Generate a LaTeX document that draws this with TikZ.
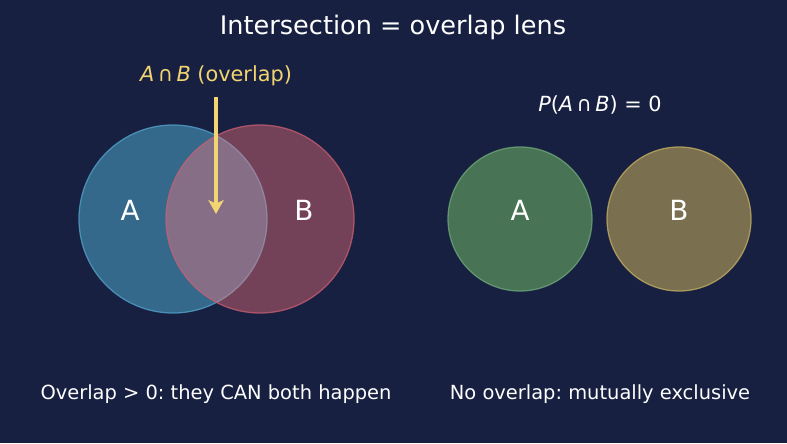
\documentclass[tikz,border=0pt]{standalone}
\usepackage{fontspec}
\setmainfont{DejaVu Sans}
\usepackage{tikz}
\usetikzlibrary{positioning, arrows.meta}
\frenchspacing

\definecolor{bgnavy}{RGB}{23,32,64}
\definecolor{setA}{RGB}{100,215,255}
\definecolor{setAedge}{RGB}{85,165,205}
\definecolor{setB}{RGB}{255,118,125}
\definecolor{setBedge}{RGB}{205,95,115}
\definecolor{exA}{RGB}{72,115,85}
\definecolor{exAedge}{RGB}{112,172,122}
\definecolor{exB}{RGB}{122,112,80}
\definecolor{exBedge}{RGB}{200,178,100}
\definecolor{hilite}{RGB}{242,212,115}

\begin{document}
\begin{tikzpicture}[x=0.72pt, y=-0.72pt]

\tikzstyle{set} = [draw, circle, inner sep=0pt, line width=0.9pt, draw opacity=0.75];
\tikzstyle{big} = [minimum size=135.4pt];
\tikzstyle{small} = [minimum size=103.7pt];
\tikzstyle{letter} = [text=white, font=\fontsize{20}{24}\selectfont];
\tikzstyle{caption} = [text=white, font=\fontsize{14}{17}\selectfont];
\tikzstyle{arrow} = [-{Stealth[length=10pt, width=11pt, inset=2.5pt]}, line width=2.2pt, draw=hilite, fill=hilite];

\fill[bgnavy] (0,0) rectangle (787,443);
\useasboundingbox (0,0) rectangle (787,443);

\node(title) [text=white, font=\fontsize{18.4}{22}\selectfont] at (393,27) {Intersection = overlap lens};

% overlapping sets
\node(A) [set, big, draw=setAedge, fill=setA, fill opacity=0.4] at (173,219) {};
\node(B) [set, big, draw=setBedge, fill=setB, fill opacity=0.4] at (260,219) {};
\node(labA) [letter] at (130,210) {A};
\node(labB) [letter] at (304,210) {B};

\node(lens) [text=hilite, font=\fontsize{15}{18}\selectfont] at (216,76) {\textit{A}\,∩\,\textit{B} (overlap)};
\coordinate(lenscenter) at (216,214);
\draw [arrow] (lens.south) ++(0,6) -- (lenscenter);

% disjoint sets
\node(prob) [text=white, font=\fontsize{15}{18}\selectfont] at (600,105) {\textit{P}(\textit{A}\,∩\,\textit{B}) = 0};
\node(exA) [set, small, draw=exAedge, fill=exA] at (520,219) {};
\node(exB) [set, small, draw=exBedge, fill=exB] at (679,219) {};
\node(labexA) [letter] at (520,210) {A};
\node(labexB) [letter] at (679,210) {B};

\node(capL) [caption] at (216,394) {Overlap > 0: they CAN both happen};
\node(capR) [caption] at (600,394) {No overlap: mutually exclusive};

\end{tikzpicture}
\end{document}
